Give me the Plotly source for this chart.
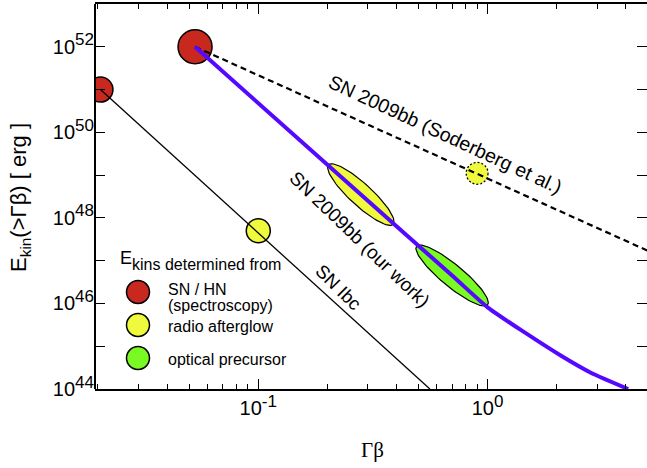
import numpy as np
import plotly.graph_objects as go

# ---------------- data ----------------
gb_ibc = [0.0205, 0.56]
E_ibc = [1e51, 1e44]

gb_sod = [0.053, 5.0]
E_sod = [1e52, 1.7e47]

gb_ours = [0.053, 0.28, 0.70, 1.0, 1.45, 2.1, 2.82, 4.1]
E_ours = [1e52, 3.5e48, 4.5e46, 8.1e45, 2.1e45, 5.9e44, 2.4e44, 1.0e44]

spec_gb = [0.0205, 0.053]
spec_E = [1e51, 1e52]
spec_size = [25, 34]

radio_gb = [0.1]
radio_E = [5e47]

radio_sod_gb = [0.90]
radio_sod_E = [1.1e49]

ell_radio_gb, ell_radio_E = 0.28, 3.5e48
ell_opt_gb, ell_opt_E = 0.70, 4.5e46

x_major = [0.1, 1.0]
x_exp_text = ["-1", "0"]
x_minor = [0.02, 0.03, 0.04, 0.05, 0.06, 0.07, 0.08, 0.09,
           0.2, 0.3, 0.4, 0.5, 0.6, 0.7, 0.8, 0.9, 2, 3, 4]
y_exp = list(range(44, 54))
y_ticks = [10.0 ** k for k in y_exp]

SUP = "10<sup><span style='font-size:17px'>%s</span></sup>"
x_major_text = [SUP % e for e in x_exp_text]
y_text = [SUP % k if k % 2 == 0 else "" for k in y_exp]

# ---------------- layout constants ----------------
W, H = 647, 468
ML, MT, MB, MR = 95, 4, 79, 0
PW, PH = W - ML - MR, H - MT - MB
XR = [-1.712, 0.695]
YR = [44, 53]
KX = PW / (XR[1] - XR[0])
KY = PH / (YR[1] - YR[0])

RED = "#c8281e"
YEL = "#f0fa3c"
GRN = "#78fa22"
BLUE = "#5508ff"
FONT = "Liberation Sans, Arial, sans-serif"


def px2paper(px, py):
    return (px - ML) / PW, (H - MB - py) / PH


def ellipse(xc, yc, a, b, ang_deg, n=90):
    t = np.linspace(0, 2 * np.pi, n)
    th = np.radians(ang_deg)
    du = a * np.cos(t) * np.cos(th) - b * np.sin(t) * np.sin(th)
    dv = a * np.cos(t) * np.sin(th) + b * np.sin(t) * np.cos(th)
    return 10 ** (np.log10(xc) + du / KX), 10 ** (np.log10(yc) - dv / KY)


fig = go.Figure()

# ellipses
for (xc, yc, a, b, ang, col) in [(ell_radio_gb, ell_radio_E, 44, 11, 42.5, YEL),
                                  (ell_opt_gb, ell_opt_E, 46, 11, 39.5, GRN)]:
    ex, ey = ellipse(xc, yc, a, b, ang)
    fig.add_trace(go.Scatter(x=ex, y=ey, mode="lines", fill="toself", fillcolor=col,
                             line=dict(color="black", width=1.2), hoverinfo="skip",
                             showlegend=False))

# dotted yellow circle (Soderberg radio)
cx, cy = ellipse(radio_sod_gb[0], radio_sod_E[0], 11, 11, 0)
fig.add_trace(go.Scatter(x=cx, y=cy, mode="lines", fill="toself", fillcolor=YEL,
                         line=dict(color="black", width=1.3, dash="2px,2px"),
                         showlegend=False, hoverinfo="skip"))

# circles
fig.add_trace(go.Scatter(x=spec_gb, y=spec_E, mode="markers", showlegend=False,
                         marker=dict(size=spec_size, color=RED, opacity=1,
                                     line=dict(color="black", width=1.5))))
fig.add_trace(go.Scatter(x=radio_gb, y=radio_E, mode="markers", showlegend=False,
                         marker=dict(size=24, color=YEL, opacity=1,
                                     line=dict(color="black", width=1.5))))

# lines
fig.add_trace(go.Scatter(x=gb_ibc, y=E_ibc, mode="lines", showlegend=False,
                         line=dict(color="black", width=1.3)))
fig.add_trace(go.Scatter(x=gb_sod, y=E_sod, mode="lines", showlegend=False,
                         line=dict(color="black", width=2.2, dash="6px,4px")))
fig.add_trace(go.Scatter(x=gb_ours, y=E_ours, mode="lines", showlegend=False,
                         line=dict(color=BLUE, width=4, shape="spline", smoothing=0.6)))

# ---------------- annotations ----------------
ann = []


def add_text(txt, px, py, size, angle=0, xanchor="center", family=FONT):
    xp, yp = px2paper(px, py)
    ann.append(dict(text=txt, x=xp, y=yp, xref="paper", yref="paper", showarrow=False,
                    xanchor=xanchor, yanchor="middle", textangle=angle,
                    font=dict(family=family, size=size, color="black")))


add_text("SN 2009bb (Soderberg et al.)", 445, 134, 19.5, 25)
add_text("SN 2009bb (our work)", 360, 239, 19, 44)
add_text("SN Ibc", 339, 287, 18.5, 45)

add_text("E", 118, 258, 18, xanchor="left")
add_text("kins determined from", 130, 264, 16, xanchor="left")
add_text("SN / HN", 166, 289, 16, xanchor="left")
add_text("(spectroscopy)", 166, 305, 16, xanchor="left")
add_text("radio afterglow", 166, 326, 16, xanchor="left")
add_text("optical precursor", 166, 359, 16, xanchor="left")

add_text("E<sub>kin</sub>(>Γβ) [ erg ]", 20, 198, 22, -90)
add_text("Γβ", 372, 450, 21, family="Liberation Serif, Times New Roman, serif")

shapes = [dict(type="line", xref="paper", yref="paper", x0=0, x1=0, y0=0, y1=1,
               line=dict(color="black", width=2), layer="above")]
for py, col in [(292, RED), (325, YEL), (358, GRN)]:
    xp, yp = px2paper(138, py)
    shapes.append(dict(type="circle", xref="paper", yref="paper", xsizemode="pixel",
                       ysizemode="pixel", xanchor=xp, yanchor=yp, x0=-11.5, x1=11.5,
                       y0=-11.5, y1=11.5, fillcolor=col,
                       line=dict(color="black", width=1.5), layer="above"))

axis_common = dict(showgrid=False, zeroline=False, ticks="inside", tickcolor="black",
                   tickfont=dict(family=FONT, size=20, color="black"))

fig.update_layout(
    width=W, height=H,
    margin=dict(l=ML, r=MR, t=MT, b=MB, pad=0),
    paper_bgcolor="white", plot_bgcolor="white",
    showlegend=False,
    annotations=ann, shapes=shapes,
    xaxis=dict(type="log", range=XR, tickmode="array", tickvals=x_major,
               ticktext=x_major_text, ticklen=10, tickwidth=1.3,
               showline=True, linecolor="black", linewidth=2, mirror="ticks",
               minor=dict(tickmode="array", tickvals=x_minor, ticks="inside",
                          ticklen=5, tickwidth=1.3, tickcolor="black"),
               **axis_common),
    yaxis=dict(type="log", range=YR, tickmode="array", tickvals=y_ticks,
               ticktext=y_text, ticklen=10, tickwidth=1.3,
               showline=False, mirror="ticks",
               **axis_common),
)

fig.write_html("out.html", config={"displayModeBar": False},
               post_script="document.body.style.margin='0px';document.body.style.overflow='hidden';")
